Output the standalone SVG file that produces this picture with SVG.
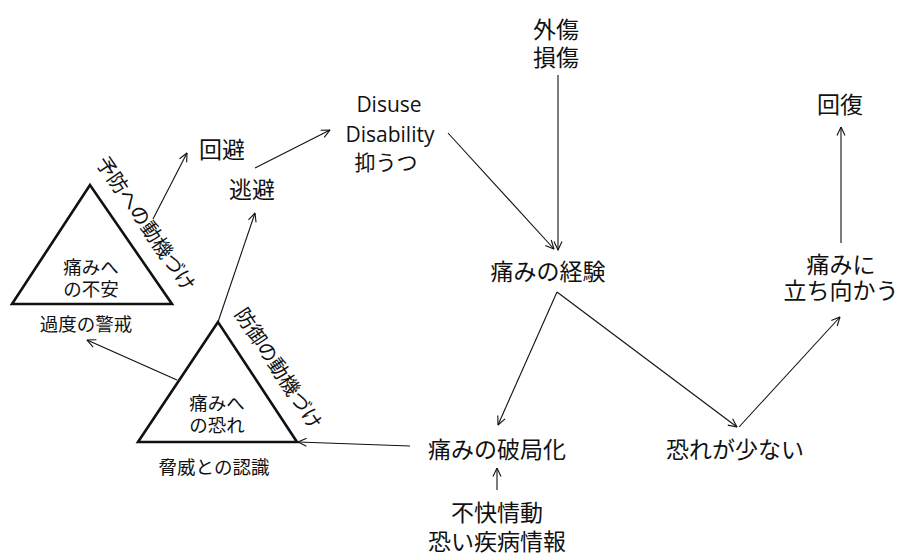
<svg xmlns="http://www.w3.org/2000/svg" width="899" height="557" viewBox="0 0 899 557">
<style>
.t{font-family:"Noto Sans CJK JP","Noto Sans",sans-serif;fill:#111;text-anchor:middle}
.l{font-size:23px}
.m{font-size:18.5px}
.s{font-size:18.5px}
.r{font-size:20px;text-anchor:start}
.e{font-family:"Open Sans","Liberation Sans",sans-serif;font-size:21px;fill:#111;text-anchor:middle}
.tri{fill:none;stroke:#111;stroke-width:2.6;stroke-linejoin:miter}
.c{fill:none;stroke:#111;stroke-width:1.1;marker-end:url(#a)}
</style>
<defs>
<marker id="a" viewBox="0 0 10 10" refX="9.5" refY="5" markerWidth="10" markerHeight="10" markerUnits="userSpaceOnUse" orient="auto">
<path d="M1,1 L9.5,5 L1,9" fill="none" stroke="#111" stroke-width="1.1"/>
</marker>
</defs>
<rect width="899" height="557" fill="#fff"/>
<g id="connectors">
<line class="c" x1="153" y1="219" x2="187" y2="153"/>
<line class="c" x1="255" y1="168" x2="330" y2="130"/>
<line class="c" x1="218" y1="322" x2="255" y2="213"/>
<line class="c" x1="177" y1="380" x2="87" y2="340"/>
<line class="c" x1="410" y1="446" x2="298" y2="442"/>
<line class="c" x1="558" y1="75" x2="558" y2="250"/>
<line class="c" x1="448" y1="133" x2="554" y2="249"/>
<line class="c" x1="557" y1="292" x2="498" y2="425"/>
<line class="c" x1="557" y1="292" x2="737" y2="427"/>
<line class="c" x1="739" y1="427" x2="840" y2="317"/>
<line class="c" x1="841" y1="243" x2="841" y2="127"/>
<line class="c" x1="497" y1="490" x2="497" y2="468"/>
</g>
<g id="anxiety">
<polygon class="tri" points="90,185 12,304 172,304"/>
<text class="t s" x="91" y="274">痛みへ</text>
<text class="t s" x="91" y="296">の不安</text>
<text class="t r" transform="translate(95,162.5) rotate(55.5)" textLength="158" lengthAdjust="spacing">予防への動機づけ</text>
</g>
<g id="overcaution"><text class="t m" x="86" y="331">過度の警戒</text></g>
<g id="fear">
<polygon class="tri" points="218,322 138,442 297,442"/>
<text class="t s" x="217" y="410">痛みへ</text>
<text class="t s" x="217" y="432">の恐れ</text>
<text class="t r" transform="translate(234,314) rotate(56.6)" textLength="140" lengthAdjust="spacing">防御の動機づけ</text>
</g>
<g id="threat"><text class="t m" x="214" y="474">脅威との認識</text></g>
<g id="avoid"><text class="t l" x="222" y="158">回避</text></g>
<g id="escape"><text class="t l" x="252" y="198">逃避</text></g>
<g id="disuse">
<text class="e" x="389" y="112">Disuse</text>
<text class="e" x="390" y="142">Disability</text>
<text class="t" x="386" y="170" style="font-size:21px">抑うつ</text>
</g>
<g id="injury">
<text class="t l" x="556" y="38">外傷</text>
<text class="t l" x="556" y="66">損傷</text>
</g>
<g id="experience"><text class="t l" x="548" y="280">痛みの経験</text></g>
<g id="catastrophizing"><text class="t l" x="497" y="458">痛みの破局化</text></g>
<g id="emotion">
<text class="t l" x="497" y="521">不快情動</text>
<text class="t l" x="497" y="550">恐い疾病情報</text>
</g>
<g id="lowfear"><text class="t l" x="735" y="458">恐れが少ない</text></g>
<g id="confront">
<text class="t l" x="841" y="273">痛みに</text>
<text class="t l" x="841" y="299">立ち向かう</text>
</g>
<g id="recovery"><text class="t l" x="840" y="113">回復</text></g>
</svg>
